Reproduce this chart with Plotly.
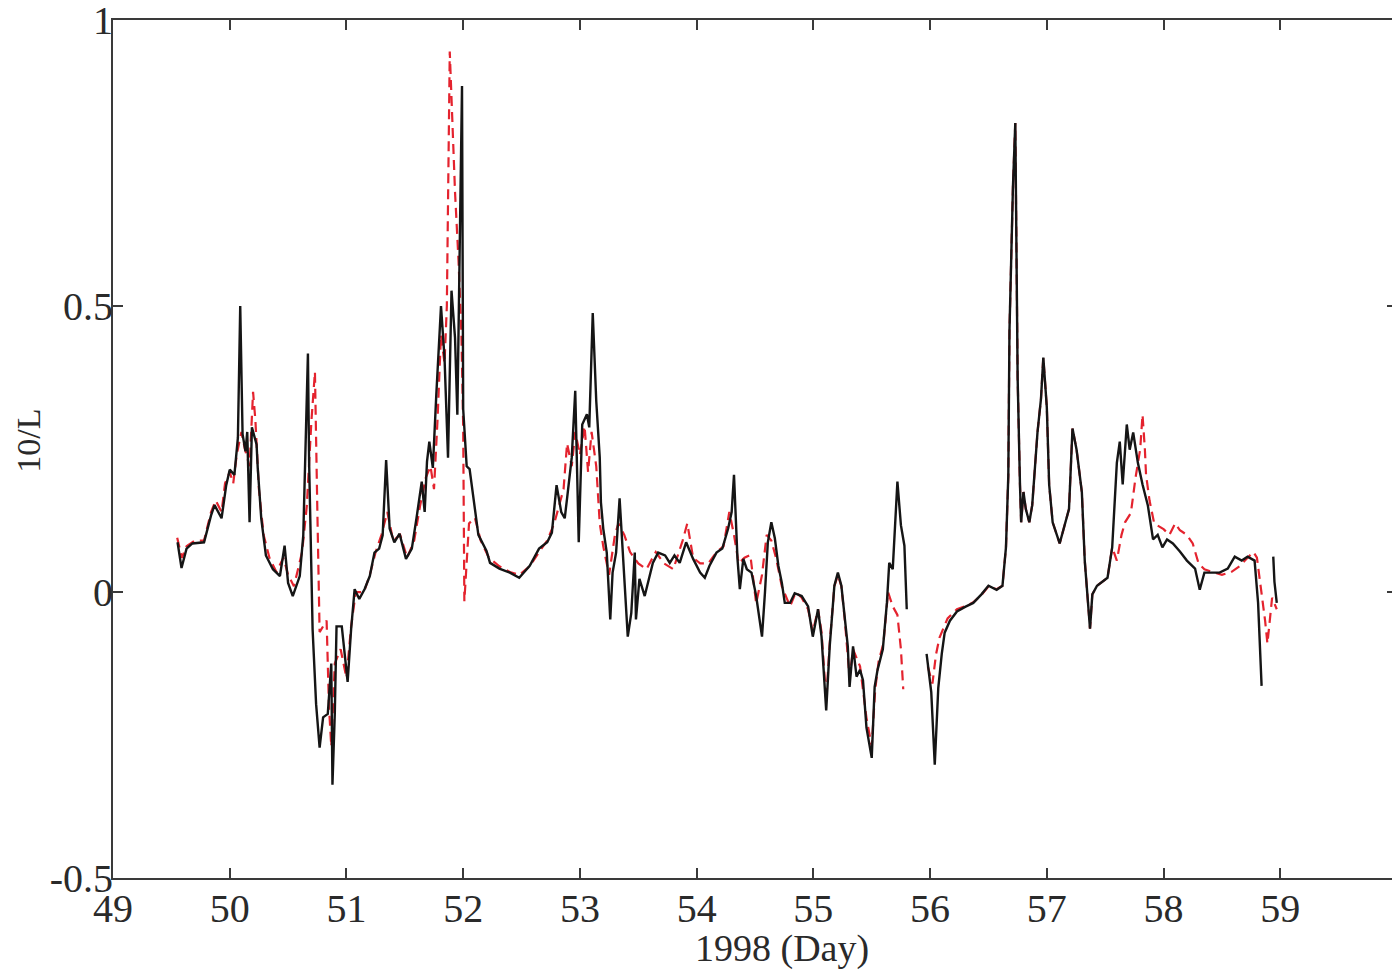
import plotly.graph_objects as go

# Black solid series (day, 10/L)
black_day = [49.553, 49.587, 49.63, 49.68, 49.78, 49.84, 49.87, 49.93, 49.97, 50.00, 50.04, 50.07, 50.09, 50.11,
             50.135, 50.15, 50.17, 50.19, 50.23, 50.24, 50.27, 50.31, 50.37, 50.43, 50.47, 50.50, 50.54, 50.60,
             50.63, 50.67, 50.68, 50.70, 50.71, 50.74, 50.77, 50.80, 50.84, 50.87, 50.88, 50.90, 50.915, 50.96,
             50.98, 51.01, 51.04, 51.07, 51.11, 51.155, 51.20, 51.24, 51.28, 51.31, 51.34, 51.37, 51.41, 51.455,
             51.51, 51.56, 51.60, 51.645, 51.67, 51.69, 51.71, 51.74, 51.77, 51.81, 51.84, 51.87, 51.90, 51.93,
             51.95, 51.99, 52.00, 52.03, 52.055, 52.10, 52.13, 52.20, 52.23, 52.31, 52.40, 52.48, 52.57, 52.65,
             52.72, 52.76, 52.78, 52.80, 52.84, 52.87, 52.89, 52.93, 52.96, 52.99, 53.02, 53.06, 53.08, 53.11,
             53.14, 53.17, 53.18, 53.20, 53.23, 53.26, 53.28, 53.31, 53.34, 53.37, 53.41, 53.44, 53.47, 53.48,
             53.51, 53.555, 53.60, 53.625, 53.67, 53.73, 53.77, 53.81, 53.855, 53.91, 53.97, 54.03, 54.07, 54.11,
             54.17, 54.22, 54.27, 54.30, 54.32, 54.335, 54.35, 54.37, 54.40, 54.43, 54.47, 54.51, 54.56, 54.585,
             54.61, 54.64, 54.67, 54.70, 54.73, 54.755, 54.80, 54.84, 54.90, 54.955, 54.995, 55.04, 55.07, 55.11,
             55.14, 55.18, 55.21, 55.24, 55.27, 55.295, 55.31, 55.34, 55.37, 55.40, 55.425, 55.455, 55.50, 55.525,
             55.55, 55.595, 55.63, 55.65, 55.68, 55.72, 55.75, 55.78, 55.80, 55.88,
             55.97, 56.01, 56.04, 56.07, 56.10, 56.125, 56.17, 56.23, 56.30, 56.37, 56.44, 56.50, 56.57, 56.62,
             56.65, 56.67, 56.68, 56.71, 56.73, 56.74, 56.75, 56.77, 56.78, 56.80, 56.82, 56.85, 56.875, 56.92,
             56.95, 56.97, 57.00, 57.02, 57.05, 57.11, 57.15, 57.19, 57.22, 57.255, 57.30, 57.325, 57.37, 57.39,
             57.43, 57.48, 57.52, 57.56, 57.60, 57.625, 57.65, 57.685, 57.71, 57.74, 57.78, 57.82, 57.865, 57.91,
             57.95, 57.99, 58.03, 58.08, 58.14, 58.20, 58.27, 58.31, 58.35, 58.41, 58.48, 58.55, 58.61, 58.67,
             58.72, 58.78, 58.81, 58.84, 58.89,
             58.94, 58.95, 58.97]
black_val = [0.087, 0.042, 0.076, 0.085, 0.087, 0.134, 0.152, 0.129, 0.187, 0.214, 0.205, 0.27, 0.50, 0.276,
             0.246, 0.28, 0.122, 0.288, 0.258, 0.217, 0.129, 0.064, 0.04, 0.028, 0.081, 0.016, -0.007, 0.028,
             0.099, 0.417, 0.228, 0.04, -0.065, -0.196, -0.272, -0.219, -0.213, -0.125, -0.337, -0.213, -0.06, -0.06,
             -0.095, -0.157, -0.065, 0.005, -0.012, 0.005, 0.028, 0.069, 0.076, 0.099, 0.231, 0.111, 0.087, 0.102,
             0.058, 0.076, 0.129, 0.193, 0.14, 0.228, 0.263, 0.217, 0.346, 0.50, 0.41, 0.235, 0.527, 0.445,
             0.31, 0.885, 0.32, 0.22, 0.215, 0.14, 0.10, 0.072, 0.051, 0.041, 0.034, 0.025, 0.046, 0.076,
             0.087, 0.104, 0.14, 0.187, 0.14, 0.129, 0.164, 0.235, 0.352, 0.087, 0.293, 0.311, 0.288, 0.488,
             0.334, 0.235, 0.157, 0.111, 0.069, -0.048, 0.034, 0.069, 0.164, 0.058, -0.078, -0.037, 0.069, -0.048,
             0.023, -0.007, 0.034, 0.051, 0.069, 0.064, 0.051, 0.064, 0.051, 0.087, 0.058, 0.034, 0.025, 0.046,
             0.069, 0.076, 0.111, 0.14, 0.205, 0.129, 0.058, 0.005, 0.058, 0.04, 0.034, -0.007, -0.078, -0.002,
             0.087, 0.122, 0.094, 0.046, 0.016, -0.019, -0.019, -0.002, -0.007, -0.025, -0.078, -0.03, -0.078, -0.207,
             -0.095, 0.011, 0.034, 0.011, -0.048, -0.095, -0.166, -0.095, -0.148, -0.136, -0.154, -0.237, -0.29, -0.166,
             -0.136, -0.10, -0.019, 0.051, 0.04, 0.193, 0.117, 0.081, -0.03, None,
             -0.108, -0.175, -0.302, -0.168, -0.108, -0.071, -0.05, -0.034, -0.026, -0.019, -0.004, 0.011, 0.004, 0.011,
             0.078, 0.203, 0.457, 0.71, 0.82, 0.56, 0.374, 0.188, 0.122, 0.175, 0.145, 0.122, 0.152, 0.279,
             0.338, 0.41, 0.323, 0.188, 0.122, 0.085, 0.115, 0.145, 0.286, 0.249, 0.175, 0.055, -0.064, -0.004,
             0.011, 0.018, 0.025, 0.078, 0.226, 0.263, 0.188, 0.293, 0.249, 0.279, 0.226, 0.188, 0.152, 0.092,
             0.10, 0.078, 0.092, 0.085, 0.071, 0.055, 0.041, 0.004, 0.034, 0.034, 0.034, 0.041, 0.062, 0.055,
             0.062, 0.055, -0.019, -0.164, None,
             0.062, 0.018, -0.019]

# Red dashed series (day, 10/L)
red_day = [49.55, 49.59, 49.63, 49.70, 49.78, 49.84, 49.88, 49.93, 49.96, 50.00, 50.03, 50.06, 50.10, 50.13,
           50.17, 50.20, 50.22, 50.25, 50.29, 50.34, 50.40, 50.46, 50.50, 50.55, 50.62, 50.66, 50.70, 50.73,
           50.75, 50.77, 50.80, 50.83, 50.85, 50.87, 50.90, 50.95, 51.00, 51.04, 51.08, 51.15, 51.20, 51.25,
           51.30, 51.35, 51.40, 51.46, 51.52, 51.58, 51.63, 51.68, 51.72, 51.75, 51.78, 51.81, 51.84, 51.86,
           51.885, 51.93, 51.96, 51.985, 52.00, 52.01, 52.05, 52.10, 52.15, 52.22, 52.31, 52.40, 52.48, 52.57,
           52.65, 52.72, 52.78, 52.82, 52.86, 52.89, 52.93, 52.96, 53.00, 53.04, 53.07, 53.10, 53.14, 53.17,
           53.20, 53.25, 53.30, 53.33, 53.38, 53.43, 53.50, 53.57, 53.65, 53.72, 53.80, 53.88, 53.92, 53.97,
           54.03, 54.10, 54.17, 54.23, 54.28, 54.32, 54.36, 54.41, 54.46, 54.51, 54.56, 54.60, 54.64, 54.68,
           54.73, 54.80, 54.85, 54.90, 54.955, 54.995, 55.04, 55.07, 55.11, 55.14, 55.18, 55.21, 55.24, 55.27,
           55.31, 55.34, 55.40, 55.455, 55.50, 55.53, 55.56, 55.60, 55.64, 55.68, 55.72, 55.75, 55.77, 55.88,
           55.98, 56.02, 56.05, 56.08, 56.15, 56.23, 56.30, 56.37, 56.44, 56.50, 56.57, 56.62,
           56.65, 56.67, 56.68, 56.71, 56.73, 56.74, 56.75, 56.77, 56.78, 56.80, 56.82, 56.85, 56.875, 56.92,
           56.95, 56.97, 57.00, 57.02, 57.05, 57.11, 57.15, 57.19, 57.22, 57.255, 57.30, 57.325, 57.37, 57.39,
           57.43, 57.48, 57.52, 57.56,
           57.60, 57.64, 57.67, 57.72, 57.76, 57.80, 57.82, 57.84, 57.85, 57.88, 57.92, 58.00,
           58.05, 58.10, 58.14, 58.20, 58.25, 58.30, 58.35, 58.42, 58.50, 58.58, 58.65, 58.72, 58.77, 58.80,
           58.84, 58.87, 58.89, 58.93, 58.97]
red_val = [0.095, 0.06, 0.08, 0.09, 0.09, 0.14, 0.16, 0.14, 0.19, 0.21, 0.19, 0.24, 0.28, 0.25,
           0.22, 0.35, 0.30, 0.18, 0.10, 0.06, 0.035, 0.06, 0.03, 0.01, 0.07, 0.15, 0.30, 0.385,
           0.15, -0.07, -0.06, -0.05, -0.20, -0.27, -0.125, -0.10, -0.15, -0.06, 0.0, 0.0, 0.03, 0.07,
           0.10, 0.14, 0.09, 0.10, 0.06, 0.09, 0.15, 0.20, 0.22, 0.18, 0.30, 0.45, 0.40, 0.50,
           0.945, 0.70, 0.58, 0.45, 0.29, -0.016, 0.12, 0.13, 0.09, 0.06, 0.045, 0.035, 0.03, 0.045,
           0.07, 0.09, 0.12, 0.15, 0.18, 0.26, 0.22, 0.28, 0.24, 0.29, 0.21, 0.28, 0.22, 0.12,
           0.08, 0.03, 0.10, 0.12, 0.10, 0.07, 0.05, 0.04, 0.07, 0.05, 0.04, 0.09, 0.12, 0.06,
           0.05, 0.05, 0.07, 0.08, 0.14, 0.10, 0.05, 0.06, 0.065, -0.02, 0.03, 0.10, 0.09, 0.06,
           0.01, -0.025, 0.0, -0.01, -0.03, -0.07, -0.03, -0.07, -0.19, -0.09, 0.01, 0.03, 0.01, -0.05,
           -0.15, -0.10, -0.13, -0.22, -0.27, -0.17, -0.12, -0.09, 0.0, -0.025, -0.04, -0.10, -0.17, None,
           -0.13, -0.16, -0.11, -0.08, -0.046, -0.03, -0.025, -0.018, -0.005, 0.01, 0.005, 0.011,
           0.078, 0.203, 0.457, 0.71, 0.82, 0.56, 0.374, 0.188, 0.122, 0.175, 0.145, 0.122, 0.152, 0.279,
           0.338, 0.41, 0.323, 0.188, 0.122, 0.085, 0.115, 0.145, 0.286, 0.249, 0.175, 0.055, -0.064, -0.004,
           0.011, 0.018, 0.025, 0.078,
           0.055, 0.10, 0.122, 0.138, 0.20, 0.25, 0.31, 0.25, 0.205, 0.16, 0.12, 0.11,
           0.10, 0.12, 0.108, 0.10, 0.085, 0.05, 0.04, 0.035, 0.03, 0.035, 0.045, 0.06, 0.07, 0.06,
           0.0, -0.05, -0.09, -0.01, -0.03]

x_ticks = [49, 50, 51, 52, 53, 54, 55, 56, 57, 58, 59]
y_ticks = [-0.5, 0, 0.5, 1]
y_tick_text = ["-0.5", "0", "0.5", "1"]

FONT = "Liberation Serif, Times New Roman, serif"

fig = go.Figure()
fig.add_trace(go.Scatter(x=red_day, y=red_val, mode="lines", connectgaps=False,
                         line=dict(color="#e4232e", width=2.2, dash="10px,6px"), hoverinfo="skip"))
fig.add_trace(go.Scatter(x=black_day, y=black_val, mode="lines", connectgaps=False,
                         line=dict(color="#151515", width=2.4), hoverinfo="skip"))

axis_common = dict(showgrid=False, zeroline=False, showline=True, linecolor="#3a3a3a", linewidth=2,
                   mirror="ticks", ticks="inside", ticklen=10, tickwidth=1.5, tickcolor="#3a3a3a",
                   ticklabeloverflow="allow", automargin=False,
                   tickfont=dict(family=FONT, size=40, color="#2a2a2a"))

# the page body has an 8px margin, so the figure is sized/offset to compensate
fig.update_layout(
    width=1392, height=962,
    margin=dict(l=105, r=3, t=12, b=92, autoexpand=False),
    paper_bgcolor="white", plot_bgcolor="white",
    showlegend=False,
    xaxis=dict(range=[49, 60], tickmode="array", tickvals=x_ticks, ticktext=[str(t) for t in x_ticks],
               ticklabelstandoff=-6, **axis_common),
    yaxis=dict(range=[-0.5, 1.0003], tickmode="array", tickvals=y_ticks, ticktext=y_tick_text,
               ticklabelstandoff=-10, **axis_common),
    annotations=[
        dict(text="1998 (Day)", xref="paper", yref="paper", x=0.521, y=0, yshift=-70,
             xanchor="center", yanchor="middle", showarrow=False,
             font=dict(family=FONT, size=38, color="#2a2a2a")),
        dict(text="10/L", xref="paper", yref="paper", x=-0.066, y=0.51, textangle=-90,
             xanchor="center", yanchor="middle", showarrow=False,
             font=dict(family=FONT, size=34, color="#2a2a2a")),
    ],
)

fig.write_html("out.html", config={"displayModeBar": False})
